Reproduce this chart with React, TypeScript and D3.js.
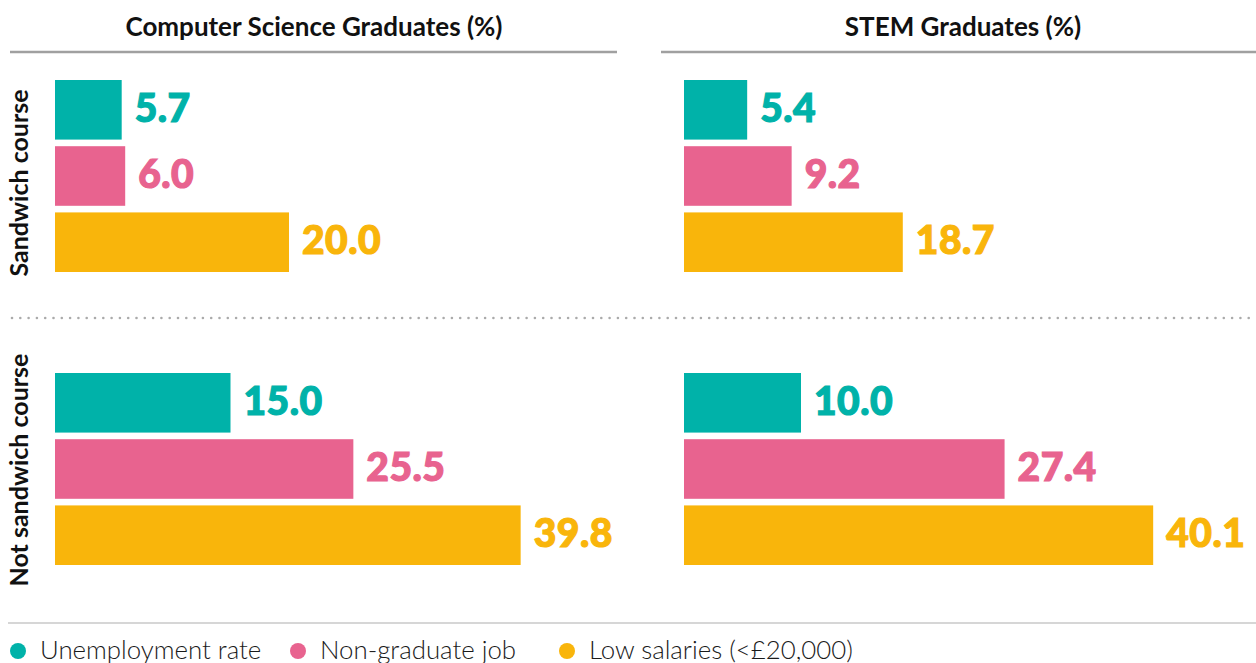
import React from "react";
import * as d3 from "d3";

const panels = ["Computer Science Graduates (%)", "STEM Graduates (%)"];
const rows = ["Sandwich course", "Not sandwich course"];
const seriesNames = ["Unemployment rate", "Non-graduate job", "Low salaries (<£20,000)"];
const seriesColors = ["#00B2A9", "#E8638F", "#F9B50B"];
// values[panel][row][series]
const csSandwich = [5.7, 6.0, 20.0];
const csNot = [15.0, 25.5, 39.8];
const stemSandwich = [5.4, 9.2, 18.7];
const stemNot = [10.0, 27.4, 40.1];
const values = [
  [csSandwich, csNot],
  [stemSandwich, stemNot],
];

const W = 1256;
const H = 663;
const FONT = "Lato, 'Open Sans', sans-serif";

export default function App() {
  const panelX = [55, 684];
  const x = d3.scaleLinear().domain([0, 40]).range([0, 468]);
  const rowTop = [80, 373];
  const rowLabelCy = [183, 470];
  const band = d3.scaleBand<number>().domain([0, 1, 2]).range([0, 192]).paddingInner(0.1).paddingOuter(0);
  const titleCx = [314, 963];
  const lineX = [[10, 617], [661, 1256]];
  const dots = d3.range(12, W, 8.3);
  const legendX = [18, 298, 567];

  return (
    <svg width={W} height={H} style={{ position: "absolute", left: 0, top: 0 }}>
      <rect width={W} height={H} fill="#fff" />
      {panels.map((p, i) => (
        <g key={p}>
          <text x={titleCx[i]} y={36} textAnchor="middle" fontFamily={FONT} fontWeight={700} fontSize={26} fill="#111">
            {p}
          </text>
          <line x1={lineX[i][0]} x2={lineX[i][1]} y1={52} y2={52} stroke="#a0a0a0" strokeWidth={2.5} />
        </g>
      ))}
      {rows.map((r, ri) => (
        <text key={r} transform={`translate(28,${rowLabelCy[ri]}) rotate(-90)`} textAnchor="middle" fontFamily={FONT} fontWeight={700} fontSize={25} fill="#111">
          {r}
        </text>
      ))}
      {values.map((panel, pi) =>
        panel.map((row, ri) =>
          row.map((v, si) => {
            const y = rowTop[ri] + (band(si) as number);
            const bw = x(v);
            return (
              <g key={`${pi}-${ri}-${si}`}>
                <rect x={panelX[pi]} y={y} width={bw} height={band.bandwidth()} fill={seriesColors[si]} />
                <text
                  x={panelX[pi] + bw + 13}
                  y={y + band.bandwidth() / 2 + 12}
                  fontFamily={FONT}
                  fontWeight={900}
                  fontSize={39}
                  fill={seriesColors[si]}
                  stroke={seriesColors[si]}
                  strokeWidth={1.2}
                  letterSpacing={0.5}
                >
                  {v.toFixed(1)}
                </text>
              </g>
            );
          })
        )
      )}
      {dots.map((dx, i) => (
        <circle key={i} cx={dx} cy={318} r={1.3} fill="#aaa" />
      ))}
      <line x1={8} x2={W} y1={623} y2={623} stroke="#c8c8c8" strokeWidth={1.5} />
      {seriesNames.map((s, i) => (
        <g key={s}>
          <circle cx={legendX[i]} cy={651} r={8} fill={seriesColors[i]} />
          <text x={legendX[i] + 22} y={659} fontFamily={FONT} fontWeight={300} fontSize={25.8} fill="#1a1a1a">
            {s}
          </text>
        </g>
      ))}
    </svg>
  );
}
